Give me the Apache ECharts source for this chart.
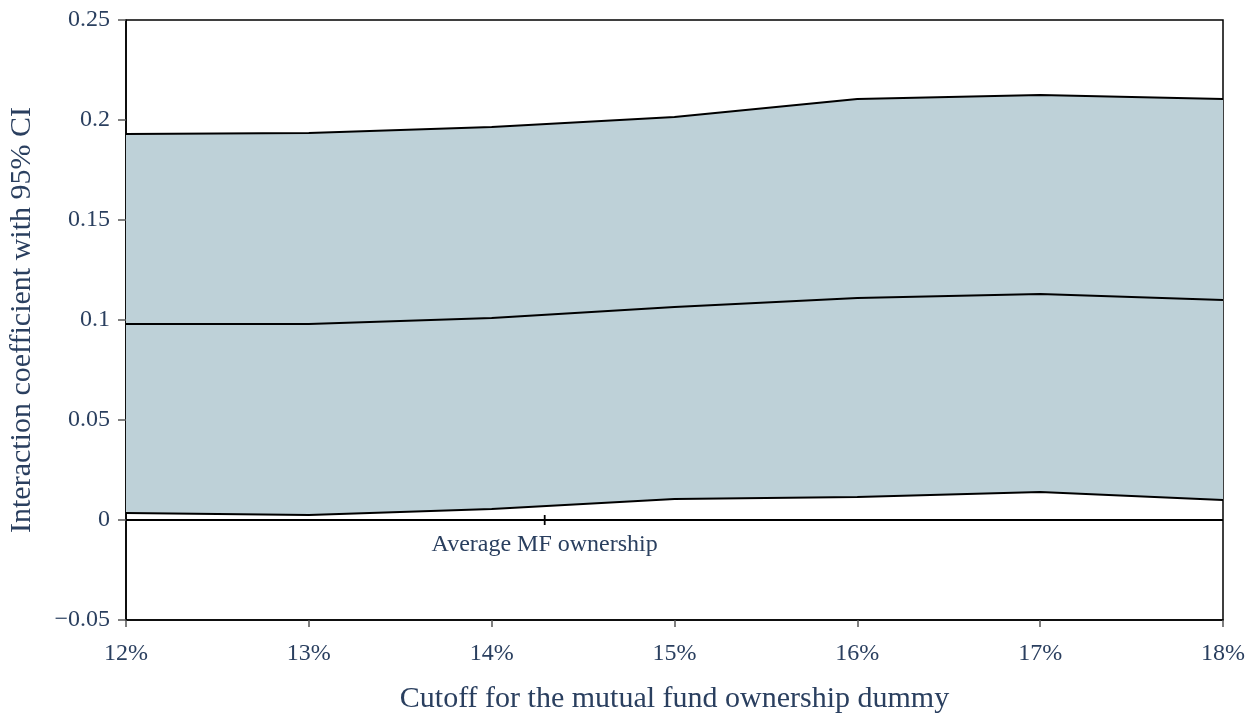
<!DOCTYPE html>
<html>
<head>
<meta charset="utf-8">
<script src="https://cdn.jsdelivr.net/npm/echarts@6/dist/echarts.min.js"></script>
<style>html,body{margin:0;padding:0;background:#fff}#c{width:1256px;height:715px}</style>
</head>
<body>
<div id="c"></div>
<script>
const cutoffs = [12, 13, 14, 15, 16, 17, 18];
const upperCI = [0.193, 0.1935, 0.1965, 0.2015, 0.2105, 0.2125, 0.2105];
const estimate = [0.098, 0.098, 0.101, 0.1065, 0.111, 0.113, 0.110];
const lowerCI = [0.0035, 0.0025, 0.0055, 0.0105, 0.0115, 0.014, 0.010];
const avgMF = 14.29;
const avgLabel = 'Average MF ownership';

const font = 'Liberation Serif';
const txt = '#2a3f5f';
const chart = echarts.init(document.getElementById('c'));
chart.setOption({
  animation: false,
  backgroundColor: '#fff',
  grid: {left: 126, right: 33, top: 20, bottom: 95, outerBoundsMode: 'none', containLabel: false,
         show: true, borderColor: '#000', borderWidth: 1.5, backgroundColor: 'transparent'},
  xAxis: {
    type: 'value', min: 12, max: 18, interval: 1,
    name: 'Cutoff for the mutual fund ownership dummy', nameLocation: 'middle', nameGap: 64,
    nameTextStyle: {fontFamily: font, fontSize: 30, color: txt},
    axisLine: {onZero: false, lineStyle: {color: '#000', width: 1.5}},
    axisTick: {show: true, length: 7, lineStyle: {color: '#555', width: 1.5}},
    axisLabel: {fontFamily: font, fontSize: 24, color: txt, margin: 22, formatter: v => v + '%'},
    splitLine: {show: false}
  },
  yAxis: {
    type: 'value', min: -0.05, max: 0.25, interval: 0.05,
    name: 'Interaction coefficient with 95% CI', nameLocation: 'middle', nameGap: 89,
    nameTextStyle: {fontFamily: font, fontSize: 30, color: txt},
    axisLine: {onZero: false, lineStyle: {color: '#000', width: 1.5}},
    axisTick: {show: true, length: 8, lineStyle: {color: '#555', width: 1.5}},
    axisLabel: {fontFamily: font, fontSize: 24, color: txt, margin: 16,
      formatter: v => { const r = Math.round(v * 100) / 100; return r < 0 ? '\u2212' + String(-r) : String(r); }},
    splitLine: {show: false}
  },
  series: [
    {type: 'custom', data: [0], z: 1, silent: true,
     renderItem: (params, api) => {
       const pts = cutoffs.map((x, i) => api.coord([x, upperCI[i]]))
         .concat(cutoffs.slice().reverse().map((x, j) => api.coord([x, lowerCI[cutoffs.length - 1 - j]])));
       return {type: 'polygon', shape: {points: pts}, style: {fill: '#bed1d8', stroke: null}};
     }},
    {type: 'line', data: cutoffs.map((x, i) => [x, upperCI[i]]), symbol: 'none', lineStyle: {color: '#000', width: 1.8}, z: 3},
    {type: 'line', data: cutoffs.map((x, i) => [x, estimate[i]]), symbol: 'none', lineStyle: {color: '#000', width: 1.8}, z: 3},
    {type: 'line', data: cutoffs.map((x, i) => [x, lowerCI[i]]), symbol: 'none', lineStyle: {color: '#000', width: 1.8}, z: 3},
    {type: 'line', data: [[12, 0], [18, 0]], symbol: 'none', lineStyle: {color: '#000', width: 1.8}, z: 4},
    {type: 'line', data: [[avgMF, -0.0025], [avgMF, 0.0025]], symbol: 'none', lineStyle: {color: '#000', width: 1.8}, z: 4},
    {type: 'scatter', data: [[avgMF, 0]], symbolSize: 0, z: 5, itemStyle: {opacity: 1},
     label: {show: true, position: 'bottom', distance: 13, formatter: avgLabel, fontFamily: font, fontSize: 24, color: txt, opacity: 1}}
  ]
});
</script>
</body>
</html>
